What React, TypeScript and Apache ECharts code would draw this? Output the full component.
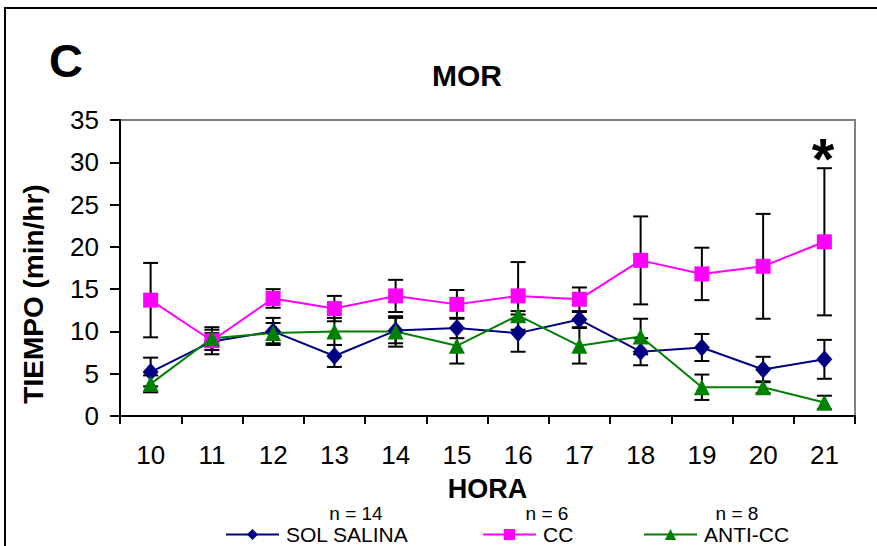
import React, { useEffect, useRef } from "react";
import * as echarts from "echarts";

const hours = ["10", "11", "12", "13", "14", "15", "16", "17", "18", "19", "20", "21"];
const yTicks = [0, 5, 10, 15, 20, 25, 30, 35];
const salina = [5.2, 8.8, 10.0, 7.1, 10.1, 10.4, 9.8, 11.4, 7.6, 8.1, 5.5, 6.7];
const salinaErr = [1.7, 1.0, 1.6, 1.3, 1.5, 1.2, 2.2, 0.9, 1.6, 1.6, 1.5, 2.3];
const cc = [13.7, 8.9, 13.9, 12.7, 14.2, 13.2, 14.2, 13.8, 18.4, 16.8, 17.7, 20.6];
const ccErr = [4.4, 1.6, 1.1, 1.5, 1.9, 1.7, 4.0, 1.4, 5.2, 3.1, 6.2, 8.7];
const anti = [3.8, 9.2, 9.8, 10.0, 10.0, 8.3, 11.9, 8.3, 9.4, 3.4, 3.4, 1.6];
const antiErr = [1.0, 1.0, 1.2, 1.6, 1.8, 2.1, 0.5, 2.1, 2.1, 1.5, 0.7, 0.8];
const seriesNames = ["SOL SALINA", "CC", "ANTI-CC"];
const nLabels = ["n = 14", "n = 6", "n = 8"];

const FONT = "Liberation Sans, Arial, sans-serif";

function errData(vals: number[], errs: number[]) {
  return vals.map((v, i) => [i, v - errs[i], v + errs[i]]);
}

function errSeries(name: string, vals: number[], errs: number[]) {
  return {
    type: "custom",
    name: name + "-err",
    z: 1,
    silent: true,
    encode: { x: 0, y: [1, 2] },
    data: errData(vals, errs),
    renderItem: (params: any, api: any) => {
      const i = api.value(0);
      const lo = api.coord([i, api.value(1)]);
      const hi = api.coord([i, api.value(2)]);
      const w = 7.5;
      const style = { stroke: "#000", lineWidth: 2 };
      return {
        type: "group",
        children: [
          { type: "line", shape: { x1: lo[0], y1: lo[1], x2: hi[0], y2: hi[1] }, style },
          { type: "line", shape: { x1: lo[0] - w, y1: lo[1], x2: lo[0] + w, y2: lo[1] }, style },
          { type: "line", shape: { x1: hi[0] - w, y1: hi[1], x2: hi[0] + w, y2: hi[1] }, style },
        ],
      };
    },
  };
}

export default function App() {
  const ref = useRef<HTMLDivElement>(null);
  useEffect(() => {
    const chart = echarts.init(ref.current!, undefined, { renderer: "svg" });
    const lineSeries = (name: string, data: number[], color: string, symbol: string, size: any) => ({
      type: "line",
      name,
      data,
      z: 3,
      symbol,
      symbolSize: size,
      lineStyle: { color, width: 2 },
      itemStyle: { color, borderWidth: 0 },
    });
    const legendLefts = [225, 482, 643];
    const nCenters = [356, 547, 737];
    chart.setOption({
      animation: false,
      backgroundColor: "#fff",
      grid: {
        left: 120,
        top: 120,
        right: 22,
        bottom: 130,
        show: true,
        borderColor: "#808080",
        borderWidth: 2,
        backgroundColor: "transparent",
      },
      legend: seriesNames.map((n, i) => ({
        data: [n],
        left: legendLefts[i],
        top: 524,
        itemWidth: 53,
        itemHeight: 14,
        padding: 0,
        textStyle: { fontFamily: FONT, fontSize: 21, color: "#000", padding: [0, 0, 0, 2] },
      })),
      xAxis: {
        type: "category",
        data: hours,
        boundaryGap: true,
        name: "HORA",
        nameLocation: "middle",
        nameGap: 59,
        nameTextStyle: { fontFamily: FONT, fontSize: 27, fontWeight: "bold", color: "#000" },
        axisLine: { lineStyle: { color: "#000", width: 2 } },
        axisTick: { show: true, alignWithLabel: false, length: 8, lineStyle: { color: "#000", width: 2 } },
        axisLabel: { fontFamily: FONT, fontSize: 26, color: "#000", margin: 26 },
        splitLine: { show: false },
      },
      yAxis: {
        type: "value",
        min: 0,
        max: 35,
        interval: 5,
        axisLine: { show: true, lineStyle: { color: "#000", width: 2 } },
        axisTick: { show: true, length: 10, lineStyle: { color: "#000", width: 2 } },
        axisLabel: {
          fontFamily: FONT,
          fontSize: 26,
          color: "#000",
          margin: 21,
          formatter: (v: number) => (yTicks.includes(v) ? String(v) : ""),
        },
        splitLine: { show: false },
      },
      graphic: [
        { type: "rect", shape: { x: 5, y: 8, width: 1000, height: 1000 }, style: { fill: "none", stroke: "#000", lineWidth: 2 }, z: -10, silent: true },
        { type: "text", x: 66, y: 60, style: { text: "C", fontFamily: FONT, fontSize: 47, fontWeight: "bold", fill: "#000", align: "center", verticalAlign: "middle" } },
        { type: "text", x: 467, y: 75, style: { text: "MOR", fontFamily: FONT, fontSize: 30, fontWeight: "bold", fill: "#000", align: "center", verticalAlign: "middle" } },
        { type: "text", x: 33, y: 294, rotation: Math.PI / 2, style: { text: "TIEMPO (min/hr)", fontFamily: FONT, fontSize: 28, fontWeight: "bold", fill: "#000", align: "center", verticalAlign: "middle" } },
        { type: "text", x: 823, y: 158, style: { text: "*", fontFamily: FONT, fontSize: 58, fontWeight: "bold", fill: "#000", align: "center", verticalAlign: "middle" } },
        ...nLabels.map((t, i) => ({
          type: "text",
          x: nCenters[i],
          y: 513,
          style: { text: t, fontFamily: FONT, fontSize: 19, fill: "#000", align: "center", verticalAlign: "middle" },
        })),
      ],
      series: [
        errSeries("SOL SALINA", salina, salinaErr),
        errSeries("CC", cc, ccErr),
        errSeries("ANTI-CC", anti, antiErr),
        lineSeries("SOL SALINA", salina, "#000080", "diamond", [16, 18]),
        lineSeries("CC", cc, "#FF00FF", "rect", 15),
        lineSeries("ANTI-CC", anti, "#008000", "triangle", 16),
      ],
    });
    return () => chart.dispose();
  }, []);
  return (
    <div
      ref={ref}
      style={{ position: "fixed", left: 0, top: 0, width: 877, height: 546 }}
    />
  );
}
